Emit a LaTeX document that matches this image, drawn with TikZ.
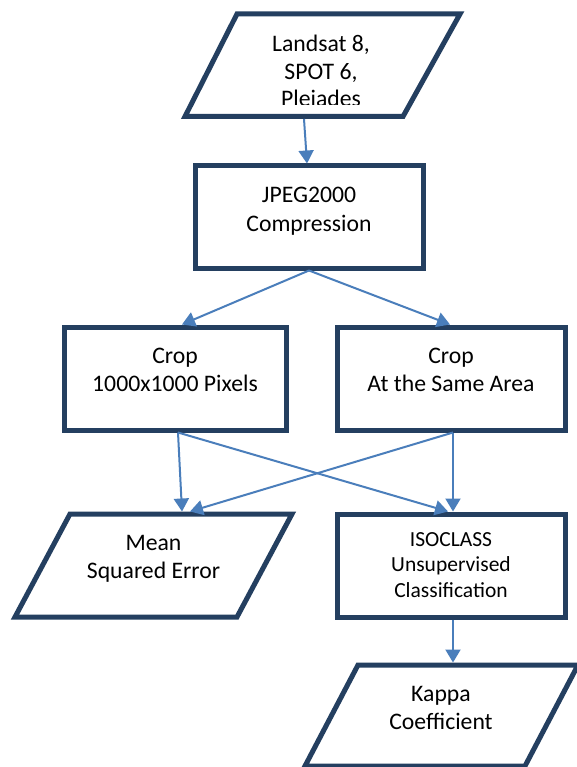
\documentclass[tikz,border=0pt]{standalone}
\usepackage{fontspec}
\setmainfont{Carlito}
\usetikzlibrary{arrows.meta}
\definecolor{navy}{HTML}{243F60}
\definecolor{arrowblue}{HTML}{4A7EBB}
\begin{document}
\begin{tikzpicture}[x=1pt,y=-1pt,
  box/.style={draw=navy, line width=5pt, minimum width=228pt, minimum height=103pt, inner sep=0pt, outer sep=2.5pt},
  para/.style={draw=navy, line width=5pt, line join=miter},
  txt/.style={align=center, inner sep=0pt, font=\fontsize{23.7}{28.5}\selectfont},
  smalltxt/.style={align=center, inner sep=0pt, font=\fontsize{21.5}{25.5}\selectfont},
  conn/.style={draw=arrowblue, line width=2pt, -{Triangle[length=13pt,width=15pt]}}]
\useasboundingbox (0,0) rectangle (577,767);
\fill[white] (0,0) rectangle (577,767);

% source parallelogram
\draw[para] (237,14) -- (460,14) -- (403,116.5) -- (185,116.5) -- cycle;
\coordinate (srcout) at (304,119);
\begin{scope}
  \clip (150,17) rectangle (480,105);
  \node[txt, font=\fontsize{23.7}{27.5}\selectfont] (src) at (321,71) {Landsat 8,\\SPOT 6,\\Pleiades};
\end{scope}

% JPEG2000
\node[box, minimum height=102pt] (jpeg) at (309,217) {};
\node[txt] (jpegtxt) at (309,211) {JPEG2000\\Compression};

% crops
\node[box, minimum width=222pt] (cropL) at (175,378.5) {};
\node[txt] (cropLtxt) at (175,370) {Crop\\1000x1000 Pixels};
\node[box] (cropR) at (451,378.5) {};
\node[txt] (cropRtxt) at (451,370) {Crop\\At the Same Area};

% Mean squared error parallelogram
\draw[para] (70,514) -- (292,514) -- (237,617) -- (15,617) -- cycle;
\coordinate (meanin1) at (182,511.5);
\coordinate (meanin2) at (190,511.5);
\node[txt] (meantxt) at (153.5,559) {Mean\\Squared Error};

% ISOCLASS
\node[box] (iso) at (451,565.5) {};
\node[smalltxt] (isotxt) at (451,565) {ISOCLASS\\Unsupervised\\Classification};

% Kappa parallelogram
\draw[para] (358,665) -- (578,665) -- (525,766) -- (305,766) -- cycle;
\coordinate (kappain) at (453,662.5);
\node[txt] (kappatxt) at (441,708) {Kappa\\Coefficient};

% connectors
\draw[conn] (srcout) -- ([xshift=-2pt]jpeg.north);
\draw[conn] (jpeg.south) -- ([xshift=7pt]cropL.north);
\draw[conn] (jpeg.south) -- ([xshift=-1pt]cropR.north);
\draw[conn] ([xshift=3pt]cropL.south) -- (meanin1);
\draw[conn] ([xshift=3pt]cropL.south) -- ([xshift=-3pt]iso.north);
\draw[conn] ([xshift=2pt]cropR.south) -- ([xshift=2pt]iso.north);
\draw[conn] ([xshift=2pt]cropR.south) -- (meanin2);
\draw[conn] ([xshift=2pt]iso.south) -- (kappain);
\end{tikzpicture}
\end{document}
